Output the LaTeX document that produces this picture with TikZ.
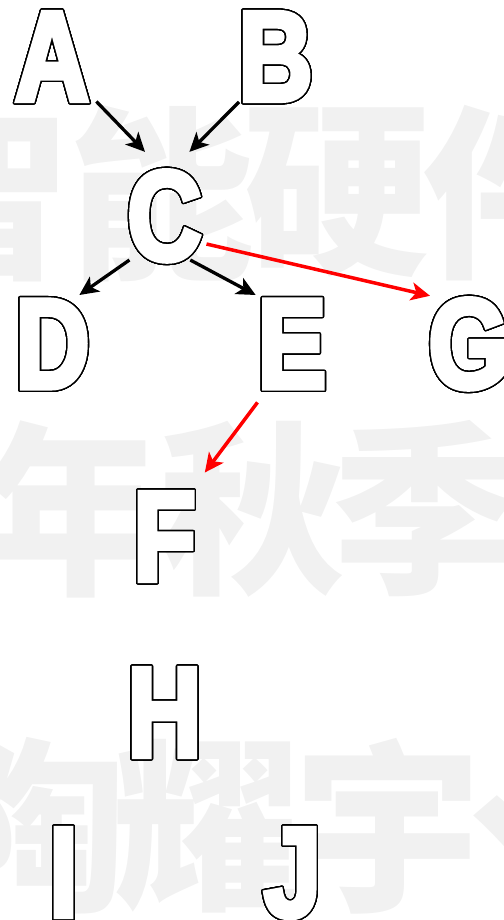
\documentclass[tikz,border=0pt]{standalone}
\usepackage{fontspec}
\usepackage{contour}
\usetikzlibrary{arrows.meta}
\newfontfamily\letterfont[FakeStretch=0.8,FakeBold=4]{Liberation Sans}
\newfontfamily\cjk{Noto Sans CJK SC}
\definecolor{wmgray}{HTML}{F1F1F1}
\definecolor{hotred}{HTML}{FF0000}
\contourlength{1.4pt}
\contournumber{40}
\newcommand\hollow[1]{\textcolor{white}{\contour{black}{#1}}}
\tikzset{>={Stealth[length=19pt,width=18pt,inset=5pt]},
  letter/.style={inner sep=0pt,outer sep=0pt,minimum width=84pt,
    text height=93pt,text depth=0pt,
    font=\letterfont\bfseries\fontsize{128pt}{128pt}\selectfont},
  wm/.style={text=wmgray,inner sep=0pt,
    font=\cjk\bfseries\fontsize{186pt}{186pt}\selectfont},
  flow/.style={->,line width=3.3pt},
  hot/.style={flow,draw=hotred,line width=3.5pt}}

\begin{document}
\begin{tikzpicture}[x=1pt,y=-1pt]
\useasboundingbox (0,0) rectangle (503,920);
% background lettering
\begin{scope}
\clip (0,0) rectangle (503,920);
\foreach \ch/\x/\y [count=\k] in {智/-22/193,能/161/193,硬/337/193,件/515/193,
    年/71/509,秋/252/509,季/425/509,
    陶/35/826,耀/206/826,宇/388/826,、/560/826}
  \node[wm] (wm\k) at (\x,\y) {\ch};
\end{scope}
% letters
\node[letter] (A) at (52,54) {\hollow{A}};
\node[letter] (B) at (275.5,54) {\hollow{B}};
\node[letter] (C) at (164.5,213.5) {\hollow{C}};
\node[letter] (D) at (52.5,341.5) {\hollow{D}};
\node[letter] (E) at (292,341.5) {\hollow{E}};
\node[letter] (G) at (468.5,341.5) {\hollow{G}};
\node[letter] (F) at (164.5,534) {\hollow{F}};
\node[letter] (H) at (164.5,710) {\hollow{H}};
\node[letter] (I) at (63.5,870) {\hollow{I}};
\node[letter] (J) at (292.5,870) {\hollow{J}};
% edges
\draw[flow,shorten <=3.4pt,shorten >=21pt] (A.-47.6) -- (C.96.5);
\draw[flow,shorten <=2pt,shorten >=21.3pt] (B.-127.3) -- (C.78.2);
\draw[flow] (C.-127.7) -- (D.60.4);
\draw[flow] (C.-61.4) -- (E.128.1);
\draw[hot,shorten >=-3.5pt] (C.-36.8) -- (G.132.2);
\draw[hot,shorten <=18pt,shorten >=18.7pt] (E.-117.1) -- (F.58.3);
\end{tikzpicture}
\end{document}
